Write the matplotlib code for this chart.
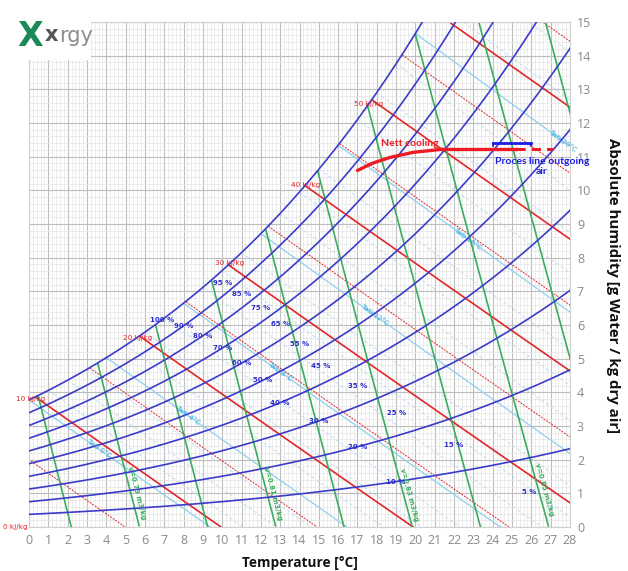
import numpy as np
import matplotlib.pyplot as plt
from matplotlib.patches import Rectangle

P_ATM = 101325.0

# relative humidity curves [%] and their labels (label temperature)
rh_levels = [10, 20, 30, 40, 50, 60, 70, 80, 90, 100]
rh_label_vals = [100, 95, 90, 85, 80, 75, 70, 65, 60, 55, 50, 45, 40, 35, 30, 25, 20, 15, 10, 5]
rh_label_t = [6.9, 10.0, 8.0, 11.0, 9.0, 12.0, 10.0, 13.0, 11.0, 14.0, 12.1, 15.1,
              13.0, 17.0, 15.0, 19.0, 17.0, 22.0, 19.0, 25.9]

# enthalpy lines [kJ/kg]
h_solid = [10, 20, 30, 40, 50, 60]
h_dashed = [5, 15, 25, 35, 45, 55, 65]
h_label_vals = [0, 10, 20, 30, 40, 50]
h_label_t = [-0.7, 0.1, 5.6, 10.4, 14.3, 17.6]

# specific volume lines [m3/kg]
v_levels = [0.78, 0.79, 0.80, 0.81, 0.82, 0.83, 0.84, 0.85, 0.86, 0.87]
v_label_vals = [0.79, 0.81, 0.83, 0.85]
v_label_y = [1.0, 1.0, 0.95, 1.1]

# wet bulb lines [C]
twb_major = [0, 4, 8, 12, 16, 20]
twb_minor = [1, 2, 3, 5, 6, 7, 9, 10, 11, 13, 14, 15, 17, 18, 19, 21, 22]
twb_label_t = [3.6, 8.2, 13.0, 17.9, 22.7, 27.6]

# process lines
nett_t = [17.0, 17.75, 18.7, 19.9, 21.4]
nett_x = [10.59, 10.80, 10.98, 11.13, 11.22]
cool_t = [21.4, 25.2]
cool_dash_t = [25.2, 27.1]
cool_x = 11.22
outgoing_t = [24.0, 26.0]
outgoing_x = 11.42

BLUE = "#3b3bc9"
RED = "#e2262a"
GREEN = "#3aad5e"
LBLUE = "#8fd0ee"
TWB_TXT = "#2aa6de"


def psat(t):
    return 610.94 * np.exp(17.625 * t / (t + 243.04))


def x_sat(t, rh=1.0):
    pw = rh * psat(t)
    return 622.0 * pw / (P_ATM - pw)


def x_enthalpy(h, t):
    return (h - 1.006 * t) / (2.501 + 0.00186 * t)


def x_volume(v, t):
    return (v * P_ATM / (287.042 * (t + 273.15)) - 1.0) / 1.6078 * 1000.0


def t_volume(v, x):
    return v * P_ATM / (287.042 * (1.0 + 1.6078 * x / 1000.0)) - 273.15


def x_wetbulb(tw, t):
    xs = x_sat(tw) / 1000.0
    return ((2501 - 2.326 * tw) * xs - 1.006 * (t - tw)) / (2501 + 1.86 * t - 4.186 * tw) * 1000.0


def below_sat(t, x):
    x = np.array(x, dtype=float)
    x[(x > x_sat(t) + 1e-9) | (x < 0)] = np.nan
    return x


def fit_text(txt, target_px, horizontal=True):
    # scale the font so the text spans the same length as in the reference
    r = fig.canvas.get_renderer()
    bb = txt.get_window_extent(r)
    span = bb.width if horizontal else bb.height
    txt.set_fontsize(txt.get_fontsize() * target_px / span)


fig = plt.figure(figsize=(6.28, 5.71), dpi=100)
ax = fig.add_axes([29 / 628, 1 - 527 / 571, 541 / 628, 505 / 571])

t = np.linspace(-2, 30, 1601)

# grid
ax.set_xlim(0, 28)
ax.set_ylim(0, 15)
ax.set_xticks(range(0, 29))
ax.set_yticks(range(0, 16))
ax.set_xticks(np.arange(0, 28.01, 0.2), minor=True)
ax.set_yticks(np.arange(0, 15.01, 0.2), minor=True)
ax.grid(which="major", color="#bdbdbd", lw=0.8, zorder=0)
ax.grid(which="minor", color="#e4e4e4", lw=0.5, zorder=0)
ax.set_axisbelow(True)
ax.yaxis.tick_right()
ax.tick_params(which="both", length=0, labelcolor="#8a8a8a", labelsize=9, pad=5)
for lab in ax.get_xticklabels() + ax.get_yticklabels():
    lab.set_family("Open Sans")
for s in ax.spines.values():
    s.set_color("#d0d0d0")
    s.set_linewidth(0.8)

# wet bulb lines
for tw in twb_minor:
    tt = t[t >= tw]
    ax.plot(tt, below_sat(tt, x_wetbulb(tw, tt)), color="#bcd6f2", lw=0.6, ls=(0, (4, 3)), zorder=1)
for tw in twb_major:
    tt = t[t >= tw]
    ax.plot(tt, below_sat(tt, x_wetbulb(tw, tt)), color=LBLUE, lw=0.9, zorder=1)

# enthalpy lines
for h in h_dashed:
    ax.plot(t, below_sat(t, x_enthalpy(h, t)), color=RED, lw=0.7, ls=(0, (2, 1.2)), zorder=2)
for h in h_solid:
    ax.plot(t, below_sat(t, x_enthalpy(h, t)), color=RED, lw=1.2, zorder=2)

# specific volume lines
for v in v_levels:
    ax.plot(t, below_sat(t, x_volume(v, t)), color=GREEN, lw=1.2, zorder=2)

# relative humidity curves
for rh in rh_levels:
    ax.plot(t, x_sat(t, rh / 100.0), color=BLUE, lw=1.2, zorder=3)

# labels
for rh, tl in zip(rh_label_vals, rh_label_t):
    ax.text(tl, x_sat(tl, rh / 100.0), f"{rh} %", color="#2b2bd0", fontsize=5,
            fontweight="bold", ha="center", va="center", zorder=5)

for h, tl in zip(h_label_vals, h_label_t):
    yl = x_sat(tl) if h > 0 else 0.0
    ax.text(tl, yl, f"{h} kJ/kg", color=RED, fontsize=5.2, ha="center", va="center", zorder=5)

for v, yl in zip(v_label_vals, v_label_y):
    tl = t_volume(v, yl)
    dt = t_volume(v, yl - 1.0) - tl
    ang = np.degrees(np.arctan2(-1.0, dt))
    ax.text(tl + 0.3, yl, f"v={v:.2f} m3/kg", color=GREEN, fontsize=5, fontweight="bold",
            rotation=ang, transform_rotates_text=True, rotation_mode="anchor",
            ha="center", va="center", zorder=5)

for tw, tl in zip(twb_major, twb_label_t):
    yl = x_wetbulb(tw, tl)
    slope = x_wetbulb(tw, tl + 1.0) - yl
    ang = np.degrees(np.arctan2(slope, 1.0))
    ax.text(tl, yl, f"Twb {tw}°C", color=TWB_TXT, fontsize=5, rotation=ang,
            transform_rotates_text=True, rotation_mode="anchor",
            ha="center", va="center", zorder=5)

# process lines
ax.plot(nett_t, nett_x, color="#ec1c24", lw=2.4, solid_capstyle="round", zorder=6)
ax.plot(cool_t, [cool_x, cool_x], color="#ec1c24", lw=2.4, zorder=6)
ax.plot(cool_dash_t, [cool_x, cool_x], color="#ec1c24", lw=2.2, ls=(0, (3, 2)), zorder=6)
ax.plot(outgoing_t, [outgoing_x, outgoing_x], color="#1d1de0", lw=2.0, zorder=6)
for tb in outgoing_t:
    ax.plot([tb, tb], [outgoing_x, outgoing_x - 0.1], color="#1d1de0", lw=1.2, zorder=6)
ax.text(19.7, 11.4, "Nett cooling", color="#ec1c24", fontsize=7.5, fontweight="bold",
        family="Lato", ha="center", va="center", zorder=7)
ax.text(26.55, 10.98, "Proces line outgoing\nair", color="#1d1de0", fontsize=7.5,
        fontweight="bold", family="Lato", ha="center", va="top", multialignment="center",
        linespacing=1.15, zorder=7)

# axis titles
xt = fig.text(300 / 628, 1 - 563 / 571, "Temperature [°C]", fontsize=10, fontweight="bold",
              family="Open Sans", ha="center", va="center", color="#111111")
yt = fig.text(613 / 628, 1 - 286 / 571, "Absolute humidity [g Water / kg dry air]", fontsize=10,
              fontweight="bold", family="Open Sans", rotation=270, ha="center", va="center",
              color="#111111")
fit_text(xt, 115)
fit_text(yt, 297, horizontal=False)

# logo
fig.patches.append(Rectangle((14 / 628, 1 - 60 / 571), 77 / 628, 50 / 571,
                             transform=fig.transFigure, facecolor="white", edgecolor="none", zorder=10))
fig.text(30 / 628, 1 - 36 / 571, "X", color="#1b8a57", fontsize=24, fontweight="bold",
         ha="center", va="center", zorder=11)
lx = fig.text(45 / 628, 1 - 35 / 571, "x", color="#555555", fontsize=15, fontweight="bold",
              ha="left", va="center", zorder=11)
bb = lx.get_window_extent(fig.canvas.get_renderer())
fig.text((bb.x1 + 1) / 628, 1 - 36 / 571, "rgy", color="#8c8c8c", fontsize=15,
         ha="left", va="center", zorder=11)

fig.savefig("out.png", dpi=100)
